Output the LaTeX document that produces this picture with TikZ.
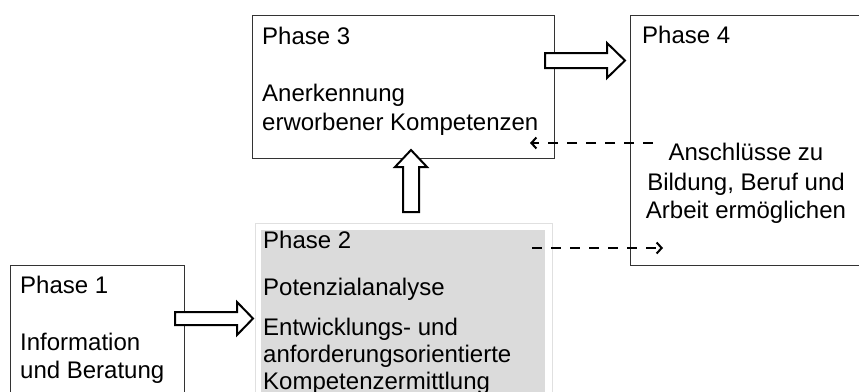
\documentclass[tikz,border=0pt]{standalone}
\usepackage{fontspec}
\setmainfont{Liberation Sans}
\usetikzlibrary{arrows.meta}
\begin{document}
\begin{tikzpicture}[x=1pt,y=-1pt,
  box/.style={draw=black!80, line width=1.4pt, anchor=north west, inner sep=0pt},
  txt/.style={anchor=base west, inner sep=0pt, font=\fontsize{24}{28}\selectfont},
  ctxt/.style={anchor=base, inner sep=0pt, font=\fontsize{24}{28}\selectfont},
  blockarrow/.style={draw=black, fill=white, line width=2pt, line join=miter},
  dasharrow/.style={line width=2.5pt, dash pattern=on 10pt off 9pt,
    -{Straight Barb[length=5pt,width=11pt,line width=2pt]}}]
\useasboundingbox (0,0) rectangle (859,391);
\clip (0,0) rectangle (859,391);
% boxes
\node[box, minimum width=174pt, minimum height=150pt] (p1) at (10,265) {};
\node[box, draw=black!12, line width=1.2pt, fill=white, minimum width=297pt, minimum height=200pt] (p2o) at (255,223) {};
\node[box, draw=none, fill=black!14, minimum width=284pt, minimum height=200pt] (p2) at (260,229) {};
\node[box, minimum width=302pt, minimum height=143pt] (p3) at (252,15) {};
\node[box, minimum width=240pt, minimum height=250pt] (p4) at (630,15) {};
% texts
\node[txt] (t1a) at (20,293) {Phase 1};
\node[txt] (t1b) at (20,350) {Information};
\node[txt] (t1c) at (20,378) {und Beratung};
\node[txt] (t2a) at (263,248) {Phase 2};
\node[txt] (t2b) at (263,295) {Potenzialanalyse};
\node[txt] (t2c) at (263,335) {Entwicklungs- und};
\node[txt] (t2d) at (263,362) {anforderungsorientierte};
\node[txt] (t2e) at (263,389) {Kompetenzermittlung};
\node[txt] (t3a) at (262,44) {Phase 3};
\node[txt] (t3b) at (262,101) {Anerkennung};
\node[txt] (t3c) at (262,130) {erworbener Kompetenzen};
\node[txt] (t4a) at (642,43) {Phase 4};
\node[ctxt] (t4b) at (746,160) {Anschlüsse zu};
\node[ctxt] (t4c) at (746,190) {Bildung, Beruf und};
\node[ctxt] (t4d) at (746,218) {Arbeit ermöglichen};
% block arrows
\draw[blockarrow] (175,312)--(237,312)--(237,302)--(253,318.5)--(237,335)--(237,325)--(175,325)--cycle;
\draw[blockarrow] (545,53)--(607,53)--(607,43)--(625,60.5)--(607,78)--(607,68)--(545,68)--cycle;
\draw[blockarrow] (403,212)--(403,167)--(395,167)--(411,150)--(427,167)--(419,167)--(419,212)--cycle;
% dashed arrows
\coordinate (d1s) at (653,143);
\coordinate (d1e) at (530,143);
\coordinate (d2s) at (532,248);
\coordinate (d2e) at (663,248);
\draw[dasharrow] (d1s) -- (d1e);
\draw[dasharrow] (d2s) -- (d2e);
\end{tikzpicture}
\end{document}
